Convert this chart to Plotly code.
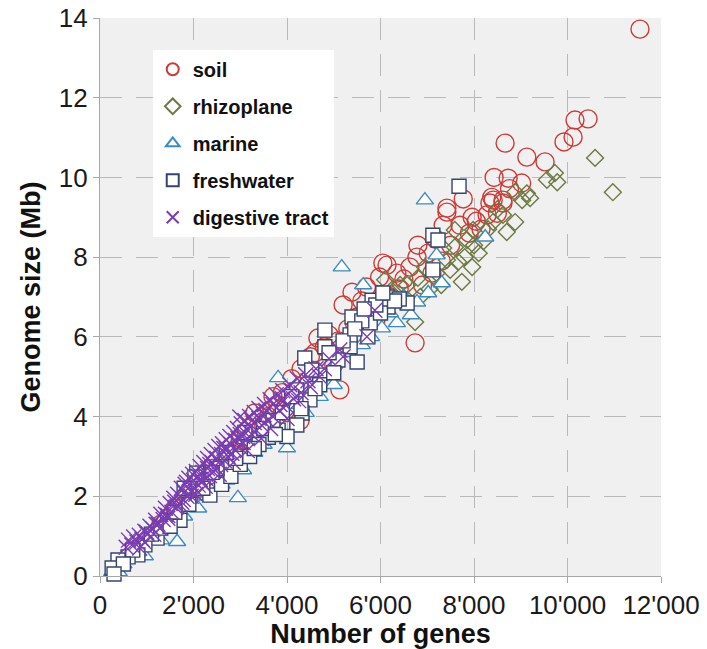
import plotly.graph_objects as go

# ---- data (genes, genome size in Mb) ----
soil_genes = [11550,10440,10160,10120,9925,8665,9130,9520,8430,8730,9020,7770,7420,8380,8340,8620,8760,8410,8620,7420,
              7960,8280,7340,7700,8050,6800,6780,7020,7180,6140,6350,6630,6500,5390,5700,5980,6740,6050,5130,4660,
              5500,5300,4900,5200,5600,4500,4300,4800,5900,6200,6900,7100,7500,7900,8150,3420,3210,3310,4450,4280,
              3800,3600,3900,4100,2950,2700,2500,2300,2100,1900,1600,1300,3000,3700,4000,5000,5700,6400,7300,8500,
              3500,4600,5100,5450,6000,2850,2400]
soil_mb = [13.72,11.47,11.44,11.01,10.89,10.86,10.51,10.39,10.0,9.98,9.86,9.46,9.23,9.5,9.36,9.36,9.72,9.43,9.43,9.13,
           9.0,9.06,8.8,8.8,8.9,8.3,8.0,8.1,8.45,7.8,7.6,7.75,7.45,7.12,7.25,7.5,5.85,7.85,4.67,5.97,
           6.5,6.2,6.05,6.8,6.9,5.5,5.2,5.75,6.4,7.0,7.3,7.6,8.3,8.6,8.7,3.66,3.41,4.09,4.8,3.9,
           4.3,4.0,4.6,4.95,3.1,2.8,2.6,2.5,2.2,1.9,1.7,1.3,3.4,4.5,4.1,5.3,6.6,7.2,7.9,9.1,
           3.8,5.6,5.9,6.3,6.9,3.05,2.7]

rhizo_genes = [10590,10970,9730,9560,9780,8880,9130,9200,9030,8620,8880,8410,8700,7590,7980,7850,7590,7340,7660,7960,
               7420,7490,7740,6800,6570,6420,6100,6850,6740,8200,8100,7200,7050,8500,8300,7800,6950,6300,5900,6600,
               7300,8000]
rhizo_mb = [10.49,9.63,10.11,9.94,9.88,9.63,9.6,9.48,9.43,9.06,8.88,8.88,8.63,8.68,8.68,8.43,8.25,8.23,7.88,7.75,
            7.93,7.68,7.38,7.48,7.3,7.3,7.43,7.0,6.37,8.4,8.1,7.6,7.2,9.2,8.7,8.0,7.75,7.1,6.9,6.9,
            7.3,8.3]

marine_genes = [6950,5170,8240,7200,5630,7310,7020,6780,6350,6030,6650,3810,4000,2950,3060,1650,1180,960,260,4200,
                4500,4900,5300,5600,3600,3300,2600,2300,2100,1800,1450,1300,800,500,400,2500,3500,4400,5800,6200,
                2700,1900,3100,4700,5000,6500]
marine_mb = [9.43,7.75,8.5,8.05,7.3,7.35,7.1,6.87,6.35,6.22,6.55,4.97,3.21,1.96,2.66,0.86,1.2,0.5,0.1,4.3,
             4.6,5.0,5.6,5.8,3.6,3.1,2.3,2.0,1.7,1.5,1.3,0.9,0.6,0.3,0.1,2.6,3.3,4.1,6.0,6.6,
             2.4,1.95,3.5,4.5,4.8,7.0]

fresh_genes = [7680,7120,7230,7120,5820,6140,6160,6570,5390,5780,5730,5350,5350,4810,4810,5500,4380,4700,5090,4530,
               4210,4490,4320,2070,4210,3810,3600,4300,4700,1450,1710,1220,960,810,600,385,260,2030,2350,2600,
               2800,3000,3200,3400,3700,3900,4000,2200,1900,1600,1100,700,500,4900,5200,5600,6000,6400,5000,4600,
               3100,2500,1800,300,6300,5900,2900,3300,3500,2400,2700,1300,1500,3750,4100,5450,5650,6050]
fresh_mb = [9.78,8.55,8.43,7.68,6.92,7.0,6.75,6.85,6.5,6.35,6.0,5.75,6.05,6.17,5.75,5.37,5.47,5.04,5.42,5.17,
            4.67,4.42,4.09,2.58,3.79,3.66,3.48,4.2,4.8,1.4,1.4,0.95,0.78,0.53,0.48,0.4,0.2,2.48,2.03,2.3,
            2.5,2.8,3.0,3.3,3.9,4.1,3.5,2.2,1.8,1.6,1.05,0.65,0.3,5.6,5.9,6.4,6.6,6.95,5.1,4.7,
            3.6,2.7,2.2,0.05,6.9,6.8,2.95,3.2,3.7,2.6,3.1,1.2,1.25,3.55,4.5,6.2,6.7,7.1]

dig_genes = [560,610,680,720,790,840,900,960,1010,1070,1130,1190,1240,1300,1350,1400,1450,1500,1540,1580,
             1620,1660,1700,1740,1780,1820,1860,1900,1940,1980,2020,2060,2100,2140,2180,2220,2260,2300,2340,2380,
             2420,2460,2500,2540,2580,2620,2660,2700,2740,2780,2820,2860,2900,2940,2980,3020,3060,3100,3150,3200,
             3250,3300,3350,3400,3460,3520,3580,3640,3700,3770,3840,3910,3980,4060,4140,4220,4300,4400,4500,4620,
             2000,2200,2400,2600,2800,3000,3200,3400,1600,1800,2100,2300,2500,2700,2900,3100,3300,3500,3700,3900,
             4100,1400,1200,1000,2150,2450,2750,3050,5130,5710,5880,5200,4800,4900,2990,
             1650,1750,1850,1950,2050,2250,2350,2550,2650,2850,2950,3150,3250,3450,3550,3650,3850,4000,4250,4450,
             4700,850,950,1150,1280,1450]
dig_mb = [0.72,0.9,0.78,0.98,0.85,1.02,0.92,1.12,1.05,1.25,1.18,1.4,1.3,1.55,1.42,1.7,1.52,1.82,1.6,1.95,
          1.72,2.05,1.8,2.2,1.92,2.3,2.0,2.45,2.12,2.55,2.2,2.62,2.28,2.75,2.35,2.85,2.45,2.95,2.52,3.05,
          2.62,3.15,2.7,3.25,2.8,3.32,2.9,3.42,3.0,3.5,3.08,3.6,3.15,3.7,3.25,3.82,3.35,3.9,3.45,4.0,
          3.55,4.1,3.65,4.2,3.78,4.3,3.9,4.42,4.0,4.55,4.15,4.65,4.28,4.8,4.45,4.95,4.6,5.05,4.75,5.2,
          2.4,2.6,2.85,3.05,3.3,3.55,3.75,3.95,1.85,2.1,2.5,2.7,2.95,3.2,3.4,3.6,3.85,4.05,4.3,4.45,
          4.65,1.55,1.3,1.1,2.42,2.75,3.1,3.5,5.67,6.0,6.67,5.5,5.2,5.45,3.99,
          1.75,1.85,2.35,2.0,2.05,2.25,2.8,2.55,3.2,2.85,3.45,3.15,3.9,3.45,4.15,3.7,4.3,3.95,4.4,4.9,
          5.0,0.7,0.85,1.05,1.2,1.45]

x_tickvals = [0, 2000, 4000, 6000, 8000, 10000, 12000]
x_ticktext = ["0", "2'000", "4'000", "6'000", "8'000", "10'000", "12'000"]
y_tickvals = [0, 2, 4, 6, 8, 10, 12, 14]

FONT = "Liberation Sans, Arial, sans-serif"

fig = go.Figure()

series = [
    ("soil", soil_genes, soil_mb, "circle-open", 18, "#cc3b36", None),
    ("rhizoplane", rhizo_genes, rhizo_mb, "diamond-open", 13, "#6b7a40", None),
    ("marine", marine_genes, marine_mb, "triangle-up", 15, "#3a8cc4", "white"),
    ("freshwater", fresh_genes, fresh_mb, "square", 14, "#33446f", "white"),
    ("digestive tract", dig_genes, dig_mb, "x-thin-open", 15, "#7a3cb2", None),
]

for name, xs, ys, sym, size, col, fill in series:
    marker = dict(symbol=sym, size=size, line=dict(color=col, width=1.4),
                  color=fill if fill else col)
    fig.add_trace(go.Scatter(
        x=xs, y=ys, mode="markers", name=name, legendgroup=name,
        marker=marker, cliponaxis=False,
    ))

axis_common = dict(
    showgrid=True, gridcolor="#b9b9b9", gridwidth=1.3, griddash="22px,14px",
    showline=True, linecolor="#a8a8a8", linewidth=1.3,
    ticks="outside", ticklen=6, tickcolor="#a8a8a8", tickwidth=1,
    zeroline=False, automargin=False, ticklabeloverflow="allow",
    tickfont=dict(family=FONT, size=26, color="#1a1a1a"),
)

fig.update_layout(
    width=707, height=649,
    margin=dict(l=100, r=46, t=18, b=73),
    paper_bgcolor="white", plot_bgcolor="#f0f0f0",
    showlegend=True,
    legend=dict(
        x=0.094, y=0.943, xanchor="left", yanchor="top",
        bgcolor="white", borderwidth=0,
        font=dict(family=FONT, size=20, color="#111111", weight="bold"),
        itemsizing="constant", tracegroupgap=8, itemwidth=30,
    ),
    xaxis=dict(range=[0, 12000], tickvals=x_tickvals, ticktext=x_ticktext,
               title=dict(text="<b>Number of genes</b>", font=dict(family=FONT, size=27, color="#111111"), standoff=0),
               **axis_common),
    yaxis=dict(range=[0, 14], tickvals=y_tickvals,
               title=dict(text="<b>Genome size (Mb)</b>", font=dict(family=FONT, size=27, color="#111111"), standoff=10),
               **axis_common),
)

# remove the default 8px page margin so the figure fills the window exactly
fig.write_html("out.html", config={"displayModeBar": False},
               post_script="document.body.style.margin='0';")
